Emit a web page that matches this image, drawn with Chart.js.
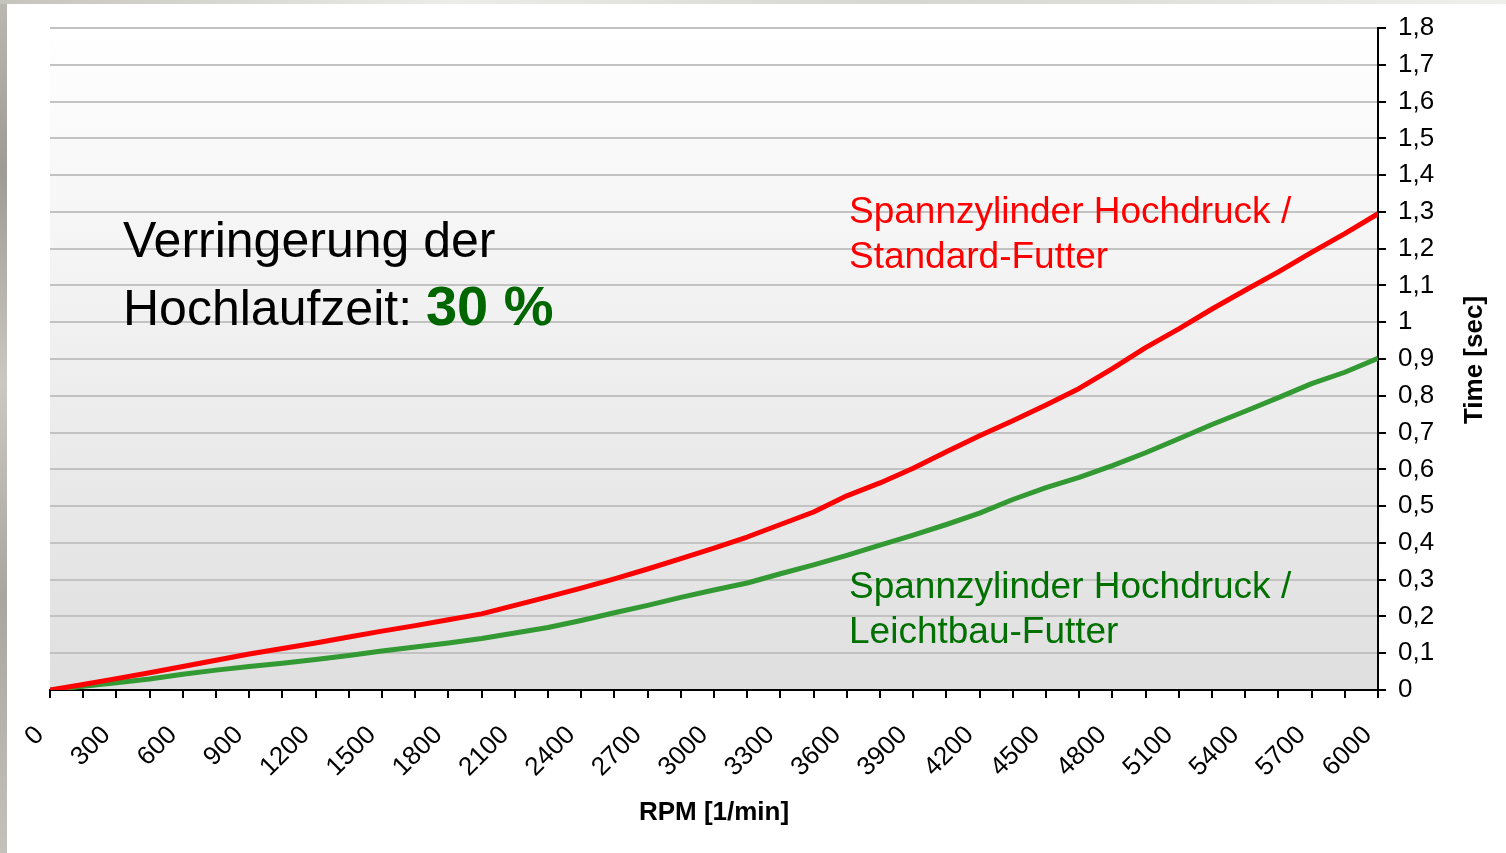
<!DOCTYPE html>
<html lang="de">
<head>
<meta charset="UTF-8">
<title>Hochlaufzeit</title>
<script src="https://cdn.jsdelivr.net/npm/chart.js"></script>
<style>
    html, body { margin: 0; padding: 0; }
    body {
        width: 1506px;
        height: 853px;
        overflow: hidden;
        position: relative;
        background: #fff;
    }
    .edge-left {
        position: absolute; left: 0; top: 0; width: 7px; height: 853px;
        background: linear-gradient(to bottom, #b9b9b1, #9c9c94 20%, #c9c9c1 45%, #a7a79f 70%, #c2c2ba);
    }
    .edge-top {
        position: absolute; left: 0; top: 0; width: 1506px; height: 4px;
        background: linear-gradient(to right, #c4c4bc, #ecece8 30%, #d6d6d0 60%, #efefec);
    }
    #wrap { position: absolute; left: 0; top: 0; width: 1506px; height: 853px; }
</style>
</head>
<body>
<div class="edge-left"></div>
<div class="edge-top"></div>
<div id="wrap"><canvas id="chart"></canvas></div>
<script>
    // RPM steps along the x axis
    const rpm = [0, 150, 300, 450, 600, 750, 900, 1050, 1200, 1350,
                 1500, 1650, 1800, 1950, 2100, 2250, 2400, 2550, 2700, 2850,
                 3000, 3150, 3300, 3450, 3600, 3750, 3900, 4050, 4200, 4350,
                 4500, 4650, 4800, 4950, 5100, 5250, 5400, 5550, 5700, 5850, 6000];

    // Hochlaufzeit in seconds
    const standardFutter = [0, 0.015, 0.031, 0.047, 0.064, 0.081, 0.098, 0.113, 0.128, 0.144,
                            0.16, 0.175, 0.191, 0.207, 0.23, 0.253, 0.277, 0.302, 0.329, 0.357,
                            0.386, 0.416, 0.45, 0.484, 0.528, 0.563, 0.603, 0.648, 0.691, 0.732,
                            0.775, 0.82, 0.874, 0.931, 0.982, 1.036, 1.087, 1.137, 1.19, 1.241, 1.295];

    const leichtbauFutter = [0, 0.01, 0.02, 0.03, 0.043, 0.054, 0.064, 0.073, 0.083, 0.094,
                             0.106, 0.117, 0.128, 0.14, 0.155, 0.17, 0.189, 0.21, 0.23, 0.252,
                             0.272, 0.291, 0.316, 0.34, 0.366, 0.394, 0.421, 0.45, 0.481, 0.518,
                             0.55, 0.578, 0.61, 0.645, 0.683, 0.722, 0.758, 0.795, 0.833, 0.864, 0.902];

    const seriesNames = ["Spannzylinder Hochdruck / Standard-Futter",
                         "Spannzylinder Hochdruck / Leichtbau-Futter"];

    const FONT = "'Liberation Sans', Arial, sans-serif";
    Chart.defaults.font.family = FONT;
    Chart.defaults.color = "#000";

    function toPoints(values) {
        return rpm.map((r, i) => ({ x: r, y: values[i] }));
    }

    // grey gradient behind the plot area
    const plotBackground = {
        id: "plotBackground",
        beforeDraw(chart) {
            const { ctx, chartArea: a } = chart;
            const g = ctx.createLinearGradient(0, a.top, 0, a.bottom);
            g.addColorStop(0, "#ffffff");
            g.addColorStop(1, "#dfdfdf");
            ctx.save();
            ctx.fillStyle = g;
            ctx.fillRect(a.left, a.top, a.right - a.left, a.bottom - a.top);
            ctx.restore();
        }
    };

    // texts inside the chart + right axis title (reads bottom to top)
    const notes = {
        id: "notes",
        afterDraw(chart) {
            const ctx = chart.ctx;
            ctx.save();
            ctx.textBaseline = "alphabetic";
            ctx.textAlign = "left";

            ctx.fillStyle = "#000";
            ctx.font = "50px " + FONT;
            ctx.fillText("Verringerung der", 123, 257);
            ctx.fillText("Hochlaufzeit: ", 123, 325);
            const w = ctx.measureText("Hochlaufzeit: ").width;
            ctx.fillStyle = "#006600";
            ctx.font = "bold 56px " + FONT;
            ctx.fillText("30 %", 123 + w, 325);

            ctx.font = "37px " + FONT;
            ctx.fillStyle = "#ff0000";
            ctx.fillText("Spannzylinder Hochdruck /", 849, 223);
            ctx.fillText("Standard-Futter", 849, 268);
            ctx.fillStyle = "#007000";
            ctx.fillText("Spannzylinder Hochdruck /", 849, 598);
            ctx.fillText("Leichtbau-Futter", 849, 643);

            ctx.translate(1475, 360);
            ctx.rotate(-Math.PI / 2);
            ctx.textAlign = "center";
            ctx.textBaseline = "middle";
            ctx.fillStyle = "#000";
            ctx.font = "bold 26px " + FONT;
            ctx.fillText("Time [sec]", 0, 0);
            ctx.restore();
        }
    };

    new Chart(document.getElementById("chart"), {
        type: "line",
        data: {
            datasets: [
                {
                    label: seriesNames[0],
                    data: toPoints(standardFutter),
                    borderColor: "#ff0000",
                    borderWidth: 5,
                    pointRadius: 0,
                    borderJoinStyle: "round",
                    tension: 0
                },
                {
                    label: seriesNames[1],
                    data: toPoints(leichtbauFutter),
                    borderColor: "#339933",
                    borderWidth: 5,
                    pointRadius: 0,
                    borderJoinStyle: "round",
                    tension: 0
                }
            ]
        },
        options: {
            responsive: true,
            maintainAspectRatio: false,
            animation: false,
            layout: { padding: { left: 50, top: 28, right: 0, bottom: 0 } },
            plugins: {
                legend: { display: false },
                tooltip: { enabled: false }
            },
            scales: {
                x: {
                    type: "linear",
                    min: 0,
                    max: 6000,
                    afterFit(scale) { scale.height = 163; },
                    border: { color: "#000", width: 2 },
                    grid: {
                        drawOnChartArea: false,
                        drawTicks: true,
                        tickLength: 8,
                        tickColor: "#000",
                        lineWidth: 2
                    },
                    ticks: {
                        stepSize: 150,
                        autoSkip: false,
                        minRotation: 45,
                        maxRotation: 45,
                        padding: 22,
                        labelOffset: -10,
                        font: { size: 26 },
                        callback: (v) => (v % 300 === 0 ? String(v) : "")
                    },
                    title: {
                        display: true,
                        text: "RPM [1/min]",
                        font: { size: 26, weight: "bold" },
                        padding: { top: 0, bottom: 25 }
                    }
                },
                y: {
                    position: "right",
                    min: 0,
                    max: 1.8,
                    afterFit(scale) { scale.width = 128; },
                    border: { color: "#000", width: 2 },
                    grid: {
                        color: "#c2c2c2",
                        lineWidth: 2,
                        tickLength: 8,
                        tickColor: "#000"
                    },
                    ticks: {
                        stepSize: 0.1,
                        padding: 12,
                        font: { size: 26 },
                        callback: (v) => String(Number(v.toFixed(1))).replace(".", ",")
                    }
                }
            }
        },
        plugins: [plotBackground, notes]
    });
</script>
</body>
</html>
